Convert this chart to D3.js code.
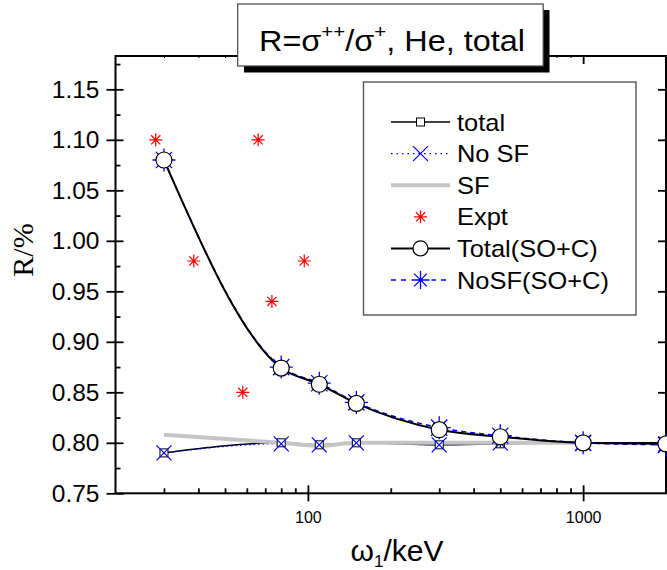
<!DOCTYPE html>
<html>
<head>
<meta charset="utf-8">
<script src="https://cdn.jsdelivr.net/npm/d3@7"></script>
<style>
  html, body { margin: 0; padding: 0; background: #fff; }
  svg { display: block; }
  text { font-family: "Liberation Sans", Arial, sans-serif; fill: #000; }
</style>
</head>
<body>
<svg id="chart" width="667" height="570"></svg>
<script>
// Photon energy grid (keV) shared by the calculated series
const energies = [30, 80, 110, 150, 300, 500, 1000, 2000];
const totalVals = [0.790, 0.800, 0.798, 0.800, 0.798, 0.799, 0.800, 0.800];
const noSFVals = [0.790, 0.799, 0.798, 0.800, 0.798, 0.800, 0.800, 0.799];
const sfEnergies = [30, 80, 110, 150, 300, 500, 1000];
const sfVals = [0.808, 0.800, 0.797, 0.800, 0.800, 0.800, 0.800];
const totalSOCVals = [1.080, 0.874, 0.858, 0.839, 0.813, 0.806, 0.800, 0.799];
const noSFSOCVals = [1.080, 0.875, 0.859, 0.840, 0.815, 0.807, 0.800, 0.798];
// Experimental points
const exptEnergies = [28, 38.5, 58, 66, 74, 97];
const exptVals = [1.10, 0.98, 0.85, 1.10, 0.94, 0.98];

const xMajorTicks = [100, 1000];
const xMinorTicks = [30, 40, 50, 60, 70, 80, 90, 200, 300, 400, 500, 600, 700, 800, 900];
const yMajorTicks = [0.75, 0.80, 0.85, 0.90, 0.95, 1.00, 1.05, 1.10, 1.15];
const yMinorTicks = [0.775, 0.825, 0.875, 0.925, 0.975, 1.025, 1.075, 1.125, 1.175];
const legendLabels = ["total", "No SF", "SF", "Expt", "Total(SO+C)", "NoSF(SO+C)"];

const svg = d3.select("#chart");
const plotL = 115.5, plotR = 666, plotT = 56, plotB = 493.3;

const x = d3.scaleLog().domain([20, 2000]).range([plotL, plotR]);
const y = d3.scaleLinear().domain([0.75, 1.183]).range([plotB, plotT]);

const BLUE = "#0000ff", RED = "#ff0000", GREY = "#c4c4c4";

// ---- axes ----
function styleAxis(g) {
  g.select(".domain").remove();
  g.selectAll(".tick line").attr("stroke", "#000").attr("stroke-width", 1.8);
}
// bottom: outward major ticks with labels, inward major + minor ticks
svg.append("g").attr("transform", `translate(0,${plotB})`)
  .call(d3.axisBottom(x).tickValues(xMajorTicks).tickSize(8).tickPadding(10).tickFormat(d3.format("d")))
  .call(styleAxis)
  .call(g => g.selectAll("text").attr("font-size", 16).attr("font-family", "Liberation Sans, Arial, sans-serif"));
svg.append("g").attr("transform", `translate(0,${plotB})`)
  .call(d3.axisTop(x).tickValues(xMajorTicks).tickSize(8).tickFormat(""))
  .call(styleAxis);
svg.append("g").attr("transform", `translate(0,${plotB})`)
  .call(d3.axisTop(x).tickValues(xMinorTicks).tickSize(5).tickFormat(""))
  .call(styleAxis);
// top
svg.append("g").attr("transform", `translate(0,${plotT})`)
  .call(d3.axisBottom(x).tickValues(xMajorTicks).tickSize(8).tickFormat(""))
  .call(styleAxis);
svg.append("g").attr("transform", `translate(0,${plotT})`)
  .call(d3.axisBottom(x).tickValues(xMinorTicks).tickSize(2).tickFormat(""))
  .call(styleAxis)
  .call(g => g.selectAll(".tick line").attr("stroke-width", 1));
// left
svg.append("g").attr("transform", `translate(${plotL},0)`)
  .call(d3.axisLeft(y).tickValues(yMajorTicks).tickSize(9).tickPadding(7).tickFormat(d3.format(".2f")))
  .call(styleAxis)
  .call(g => g.selectAll("text").attr("font-size", 24.5).attr("font-family", "Liberation Sans, Arial, sans-serif"));
svg.append("g").attr("transform", `translate(${plotL},0)`)
  .call(d3.axisRight(y).tickValues(yMajorTicks).tickSize(8).tickFormat(""))
  .call(styleAxis);
svg.append("g").attr("transform", `translate(${plotL},0)`)
  .call(d3.axisRight(y).tickValues(yMinorTicks).tickSize(5).tickFormat(""))
  .call(styleAxis);
// right
svg.append("g").attr("transform", `translate(${plotR},0)`)
  .call(d3.axisLeft(y).tickValues(yMajorTicks.slice(1)).tickSize(8).tickFormat(""))
  .call(styleAxis);

// frame
svg.append("rect").attr("x", plotL).attr("y", plotT)
  .attr("width", plotR - plotL).attr("height", plotB - plotT)
  .attr("fill", "none").attr("stroke", "#000").attr("stroke-width", 2);

// ---- curves ----
const pts = (xs, ys) => xs.map((d, i) => [x(d), y(ys[i])]);
const line = d3.line().curve(d3.curveMonotoneX);

const plot = svg.append("g");
plot.append("path").attr("d", line(pts(energies, totalVals)))
  .attr("fill", "none").attr("stroke", "#000").attr("stroke-width", 1.5);
plot.append("path").attr("d", line(pts(energies, noSFVals)))
  .attr("fill", "none").attr("stroke", BLUE).attr("stroke-width", 1.2).attr("stroke-dasharray", "1.5,3");
plot.append("path").attr("d", line(pts(sfEnergies, sfVals)))
  .attr("fill", "none").attr("stroke", GREY).attr("stroke-width", 4);
plot.append("path").attr("d", line(pts(energies, noSFSOCVals)))
  .attr("fill", "none").attr("stroke", BLUE).attr("stroke-width", 1.5).attr("stroke-dasharray", "5,4");
plot.append("path").attr("d", line(pts(energies, totalSOCVals)))
  .attr("fill", "none").attr("stroke", "#000").attr("stroke-width", 2);

// ---- markers ----
function square(g, cx, cy, s) {
  g.append("rect").attr("x", cx - s / 2).attr("y", cy - s / 2).attr("width", s).attr("height", s)
    .attr("fill", "#fff").attr("stroke", "#000").attr("stroke-width", 1);
}
function cross(g, cx, cy, r, color, w) {
  g.append("path").attr("d", `M${cx - r},${cy - r}L${cx + r},${cy + r}M${cx - r},${cy + r}L${cx + r},${cy - r}`)
    .attr("stroke", color).attr("stroke-width", w).attr("fill", "none");
}
function star(g, cx, cy, r, color, w) {
  const d = r * Math.SQRT1_2;
  g.append("path").attr("d",
    `M${cx - r},${cy}L${cx + r},${cy}M${cx},${cy - r}L${cx},${cy + r}` +
    `M${cx - d},${cy - d}L${cx + d},${cy + d}M${cx - d},${cy + d}L${cx + d},${cy - d}`)
    .attr("stroke", color).attr("stroke-width", w).attr("fill", "none");
}
function circle(g, cx, cy, r) {
  g.append("circle").attr("cx", cx).attr("cy", cy).attr("r", r)
    .attr("fill", "#fff").attr("stroke", "#000").attr("stroke-width", 1.2);
}

const marks = svg.append("g");
pts(energies, totalVals).forEach(([px, py]) => square(marks, px, py, 8));
pts(energies, noSFVals).forEach(([px, py]) => cross(marks, px, py, 7.5, BLUE, 1.2));
pts(exptEnergies, exptVals).forEach(([px, py]) => star(marks, px, py, 6.5, RED, 1.2));
pts(energies, noSFSOCVals).forEach(([px, py]) => star(marks, px, py, 11.5, BLUE, 1.3));
pts(energies, totalSOCVals).forEach(([px, py]) => circle(marks, px, py, 8));

// ---- legend ----
const leg = svg.append("g");
leg.append("rect").attr("x", 363.5).attr("y", 82).attr("width", 272.5).attr("height", 233)
  .attr("fill", "#fff").attr("stroke", "#555").attr("stroke-width", 1.4);
const lx0 = 391, lx1 = 450, lxm = 420.5, ltx = 457;
legendLabels.forEach((lab, i) => {
  const ly = 122 + i * 31.6;
  const g = leg.append("g");
  if (i === 0) {
    g.append("line").attr("x1", lx0).attr("x2", lx1).attr("y1", ly).attr("y2", ly).attr("stroke", "#000").attr("stroke-width", 1.5);
    square(g, lxm, ly, 8);
  } else if (i === 1) {
    g.append("line").attr("x1", lx0).attr("x2", lx1).attr("y1", ly).attr("y2", ly).attr("stroke", BLUE).attr("stroke-width", 1.2).attr("stroke-dasharray", "1.5,4");
    cross(g, lxm, ly, 7.5, BLUE, 1.2);
  } else if (i === 2) {
    g.append("line").attr("x1", lx0).attr("x2", lx1).attr("y1", ly).attr("y2", ly).attr("stroke", GREY).attr("stroke-width", 4);
  } else if (i === 3) {
    star(g, lxm, ly, 6.5, RED, 1.2);
  } else if (i === 4) {
    g.append("line").attr("x1", lx0).attr("x2", lx1).attr("y1", ly).attr("y2", ly).attr("stroke", "#000").attr("stroke-width", 2);
    circle(g, lxm, ly, 7.5);
  } else {
    g.append("line").attr("x1", lx0).attr("x2", lx1).attr("y1", ly).attr("y2", ly).attr("stroke", BLUE).attr("stroke-width", 1.5).attr("stroke-dasharray", "5,5");
    g.append("rect").attr("x", lxm - 11).attr("y", ly - 3).attr("width", 22).attr("height", 6).attr("fill", "#fff");
    star(g, lxm, ly, 9, BLUE, 1.3);
  }
  g.append("text").attr("transform", `translate(${ltx},${ly}) scale(1.06,1)`)
    .attr("dy", "0.36em").attr("font-size", 24).text(lab);
});

// ---- title box ----
const tb = svg.append("g");
tb.append("rect").attr("x", 244).attr("y", 10).attr("width", 305.5).attr("height", 62.5).attr("fill", "#000");
tb.append("rect").attr("x", 237.7).attr("y", 4).attr("width", 305.5).attr("height", 62)
  .attr("fill", "#fff").attr("stroke", "#444").attr("stroke-width", 1.2);
const tt = tb.append("text").attr("transform", "translate(392,51) scale(1.08,1)")
  .attr("text-anchor", "middle").attr("font-size", 30);
tt.append("tspan").text("R=σ");
tt.append("tspan").attr("font-size", 19).attr("dy", -13).text("++");
tt.append("tspan").attr("dy", 13).text("/σ");
tt.append("tspan").attr("font-size", 19).attr("dy", -13).text("+");
tt.append("tspan").attr("dy", 13).text(", He, total");

// ---- axis titles ----
const xt = svg.append("text").attr("x", 397).attr("y", 561).attr("text-anchor", "middle").attr("font-size", 30);
xt.append("tspan").text("ω");
xt.append("tspan").attr("font-size", 17).attr("dy", 6).text("1");
xt.append("tspan").attr("dy", -6).text("/keV");

svg.append("text").attr("transform", "translate(33,250) rotate(-90)")
  .attr("text-anchor", "middle").attr("font-size", 30)
  .style("font-family", "'Liberation Serif', 'Times New Roman', serif")
  .text("R/%");
</script>
</body>
</html>
